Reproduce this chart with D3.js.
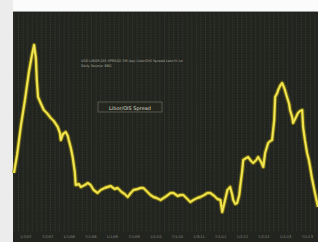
<!DOCTYPE html>
<html><head><meta charset="utf-8">
<script src="https://cdn.jsdelivr.net/npm/d3@7"></script>
<style>html,body{margin:0;padding:0;background:#fff;overflow:hidden}</style>
</head><body>
<svg id="c" width="318" height="242"></svg>
<script>
const periods = [
 0,1.0,2.3,3.6,4.9,5.9,6.6,7.2,7.5,7.9,
 8.9,9.8,10.8,12.1,13.1,14.4,15.1,15.4,16.1,17.0,
 17.7,18.0,18.7,19.3,20.0,20.3,21.3,22.0,23.3,24.3,
 25.2,26.2,27.5,28.5,29.8,30.8,31.8,33.1,34.1,35.4,
 36.4,37.4,38.4,39.3,40.7,41.6,42.6,43.9,44.9,45.9,
 46.9,48.2,49.2,50.2,51.5,52.5,53.8,54.8,55.7,56.7,
 58.0,59.0,60.3,61.3,62.6,63.6,64.6,65.9,66.9,67.9,
 68.5,69.2,70.2,71.1,71.8,72.1,72.8,73.4,74.1,74.4,
 75.1,75.4,76.4,77.0,78.0,78.7,79.7,80.3,81.3,82.0,
 82.6,83.3,83.6,84.3,84.9,85.6,85.9,86.6,86.9,87.5,
 88.2,88.9,89.8,90.5,90.8,91.5,91.8,92.8,93.4,94.1,
 94.8,95.1,95.7,96.4,97.0,97.4,98.0,99.0,100
];
const spread = [
 57,75,105,130,158,175,185,172,150,133,
 126,120,117,112,109,103,97,90,96,98,
 94,90,82,73,58,45,46,43,45,47,
 45,40,37,40,42,43,44,41,42,38,
 36,33,37,40,41,42,42,38,35,33,
 32,30,32,34,37,37,34,35,35,32,
 28,30,32,33,35,37,37,34,31,30,
 18,27,40,43,35,30,26,27,35,43,
 60,70,72,73,69,67,70,73,68,63,
 77,84,87,89,90,110,133,137,140,144,
 147,142,133,126,120,113,107,113,117,119,
 120,103,90,77,70,63,52,37,23
];
const tickLabels = ["1/2/07","7/2/07","1/1/08","7/1/08","1/1/09","7/1/09","1/1/10","7/1/10","1/3/11","7/1/11","1/2/12","7/2/12","1/1/13","7/1/13"];
const titleLines = ["USD LIBOR-OIS SPREAD 3M (bp)  Libor/OIS Spread  Last  Hi  Lo", "Daily  Source: BBG"];
const boxLabel = "Libor/OIS Spread";

const svg = d3.select("#c");
const W = 318, H = 242;
const L = 13, T = 12;
svg.append("rect").attr("x",0).attr("y",0).attr("width",W).attr("height",H).attr("fill","#fbfbfb");
svg.append("rect").attr("x",0).attr("y",0).attr("width",L).attr("height",H).attr("fill","#ececec");
svg.append("rect").attr("x",L).attr("y",T-1).attr("width",W-L).attr("height",1.5).attr("fill","#9a9a98");
svg.append("rect").attr("x",L).attr("y",T).attr("width",W-L).attr("height",H-T).attr("fill","#22241f");

const x = d3.scaleLinear().domain([0,100]).range([L+1, W]);
const y = d3.scaleLinear().domain([0,200]).range([230, 30]);

// vertical grid
const g = svg.append("g");
g.selectAll("line").data(d3.range(0,100,1.5)).join("line")
 .attr("x1",d=>x(d)).attr("x2",d=>x(d)).attr("y1",T+2).attr("y2",H-10)
 .attr("stroke","#3a3c34").attr("stroke-width",0.8).attr("stroke-dasharray","1.5,1");

// axis labels
const tx = d3.scaleBand().domain(tickLabels).range([L+2, W]);
svg.append("g").selectAll("text").data(tickLabels).join("text")
 .attr("x",d=>tx(d)+tx.bandwidth()/2).attr("y",238)
 .attr("text-anchor","middle").attr("font-family","DejaVu Sans").attr("font-size",3.6)
 .attr("fill","#8a8a84").text(d=>d);

// title text
svg.append("g").selectAll("text").data(titleLines).join("text")
 .attr("x",81).attr("y",(d,i)=>62+i*4.5).attr("font-family","DejaVu Sans").attr("font-size",3.4)
 .attr("fill","#a8a898").text(d=>d);

// box label
svg.append("rect").attr("x",98).attr("y",102).attr("width",64).attr("height",10)
 .attr("fill","#25271f").attr("stroke","#6a6a62").attr("stroke-width",0.7);
svg.append("text").attr("x",130).attr("y",109.5).attr("text-anchor","middle")
 .attr("font-family","DejaVu Sans").attr("font-size",5).attr("fill","#d8d8c8").text(boxLabel);

const data = periods.map((p,i)=>({p, v: spread[i]}));
const line = d3.line().x(d=>x(d.p)).y(d=>y(d.v)).curve(d3.curveLinear);
svg.append("path").datum(data).attr("d",line).attr("fill","none")
 .attr("stroke","#8a8018").attr("stroke-width",4.5).attr("stroke-opacity",0.55).attr("stroke-linejoin","round");
svg.append("path").datum(data).attr("d",line).attr("fill","none")
 .attr("stroke","#e6d629").attr("stroke-width",2.4).attr("stroke-linejoin","round");
svg.append("path").datum(data).attr("d",line).attr("fill","none")
 .attr("stroke","#f4ec80").attr("stroke-width",0.8).attr("stroke-linejoin","round");
</script>
</body></html>
